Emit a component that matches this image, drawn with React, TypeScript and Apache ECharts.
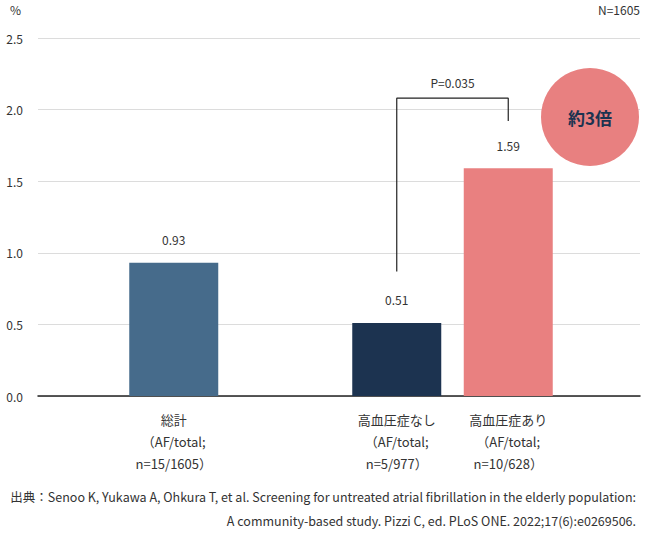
// 心房細動の割合（総計／高血圧症なし／高血圧症あり）を縦棒で表示。
// 棒の間隔が不均等なので、目盛り線用のグリッドと棒用のグリッドを分けている。
import { useEffect, useRef } from 'react'
import * as echarts from 'echarts'

const categories = ['総計', '', '高血圧症なし', '高血圧症あり']
const categoryLabels = [
  '総計\n（AF/total;\nn=15/1605）',
  '',
  '高血圧症なし\n（AF/total;\nn=5/977）',
  '高血圧症あり\n（AF/total;\nn=10/628）',
]
const values = [0.93, null, 0.51, 1.59]
const barColors = ['#466b8b', 'transparent', '#1c3350', '#e98080']
const yTicks = [0, 0.5, 1.0, 1.5, 2.0, 2.5]

// 有意差ブラケット（高血圧症なし → 高血圧症あり）
const bracketPoints: [string, number][] = [
  ['高血圧症なし', 0.87],
  ['高血圧症なし', 2.08],
  ['高血圧症あり', 2.08],
  ['高血圧症あり', 1.92],
]
const pValueLabel = 'P=0.035'
const pValueLevel = 2.19

const FONT = '"Noto Sans CJK JP", "Noto Sans", sans-serif'
const TEXT = '#333'

export default function App() {
  const ref = useRef<HTMLDivElement>(null)

  useEffect(() => {
    document.body.style.margin = '0'
    if (!ref.current) return
    const chart = echarts.init(ref.current, undefined, { renderer: 'svg' })

    chart.setOption({
      animation: false,
      backgroundColor: '#fff',
      textStyle: { fontFamily: FONT, color: TEXT },
      grid: [
        { left: 38, right: 10, top: 38, bottom: 139 },
        { left: 118, right: 86, top: 38, bottom: 139 },
      ],
      xAxis: [
        {
          gridIndex: 0,
          type: 'value',
          min: 0,
          max: 1,
          axisLine: { show: true, onZero: false, lineStyle: { color: '#222', width: 1.5 } },
          axisTick: { show: false },
          axisLabel: { show: false },
          splitLine: { show: false },
        },
        {
          gridIndex: 1,
          type: 'category',
          data: categories,
          axisLine: { show: false },
          axisTick: { show: false },
          axisLabel: {
            interval: 0,
            margin: 12,
            fontSize: 13,
            lineHeight: 22,
            color: TEXT,
            fontFamily: FONT,
            formatter: (_v: string, i: number) => categoryLabels[i],
          },
        },
      ],
      yAxis: [
        {
          gridIndex: 0,
          type: 'value',
          min: yTicks[0],
          max: yTicks[yTicks.length - 1],
          interval: 0.5,
          axisLine: { show: false },
          axisTick: { show: false },
          axisLabel: {
            margin: 15,
            fontSize: 12,
            color: TEXT,
            fontFamily: FONT,
            formatter: (v: number) => v.toFixed(1),
          },
          splitLine: { lineStyle: { color: '#dcdcdc', width: 1 } },
        },
        {
          gridIndex: 1,
          type: 'value',
          min: yTicks[0],
          max: yTicks[yTicks.length - 1],
          show: false,
          splitLine: { show: false },
        },
      ],
      series: [
        {
          type: 'bar',
          xAxisIndex: 1,
          yAxisIndex: 1,
          barWidth: 89,
          silent: true,
          data: values.map((v, i) => ({
            value: v,
            itemStyle: { color: barColors[i] },
          })),
          label: {
            show: true,
            position: 'top',
            distance: 17,
            fontSize: 12,
            color: TEXT,
            fontFamily: FONT,
            formatter: (p: { value: number | null }) => (p.value == null ? '' : p.value.toFixed(2)),
          },
        },
        {
          type: 'line',
          xAxisIndex: 1,
          yAxisIndex: 1,
          silent: true,
          symbol: 'none',
          data: bracketPoints,
          lineStyle: { color: '#222', width: 1.2 },
        },
      ],
    })

    const left = chart.convertToPixel({ xAxisIndex: 1, yAxisIndex: 1 }, [bracketPoints[0][0], pValueLevel])
    const right = chart.convertToPixel({ xAxisIndex: 1, yAxisIndex: 1 }, [bracketPoints[2][0], pValueLevel])

    const footer = { fontSize: 12.5, fill: TEXT, fontFamily: FONT, align: 'right', verticalAlign: 'middle' }

    chart.setOption({
      graphic: [
        {
          type: 'text',
          left: 10,
          top: 3,
          style: { text: '%', fontSize: 12, fill: TEXT, fontFamily: FONT },
        },
        {
          type: 'text',
          right: 10,
          top: 3,
          style: { text: 'N=1605', fontSize: 12, fill: TEXT, fontFamily: FONT },
        },
        {
          type: 'text',
          x: (left[0] + right[0]) / 2,
          y: left[1],
          style: {
            text: pValueLabel,
            fontSize: 12,
            fill: TEXT,
            fontFamily: FONT,
            align: 'center',
            verticalAlign: 'middle',
          },
        },
        {
          type: 'circle',
          shape: { cx: 590, cy: 117, r: 49 },
          style: { fill: '#e88080' },
        },
        {
          type: 'text',
          x: 590,
          y: 117,
          style: {
            text: '約3倍',
            fontSize: 17,
            fontWeight: 'bold',
            fill: '#1c3350',
            fontFamily: FONT,
            align: 'center',
            verticalAlign: 'middle',
          },
        },
        {
          type: 'text',
          x: 636,
          y: 496,
          style: {
            ...footer,
            text: '出典：Senoo K, Yukawa A, Ohkura T, et al. Screening for untreated atrial fibrillation in the elderly population:',
          },
        },
        {
          type: 'text',
          x: 636,
          y: 520,
          style: {
            ...footer,
            text: 'A community-based study. Pizzi C, ed. PLoS ONE. 2022;17(6):e0269506.',
          },
        },
      ],
    })

    return () => chart.dispose()
  }, [])

  return <div ref={ref} style={{ width: 650, height: 535 }} />
}
